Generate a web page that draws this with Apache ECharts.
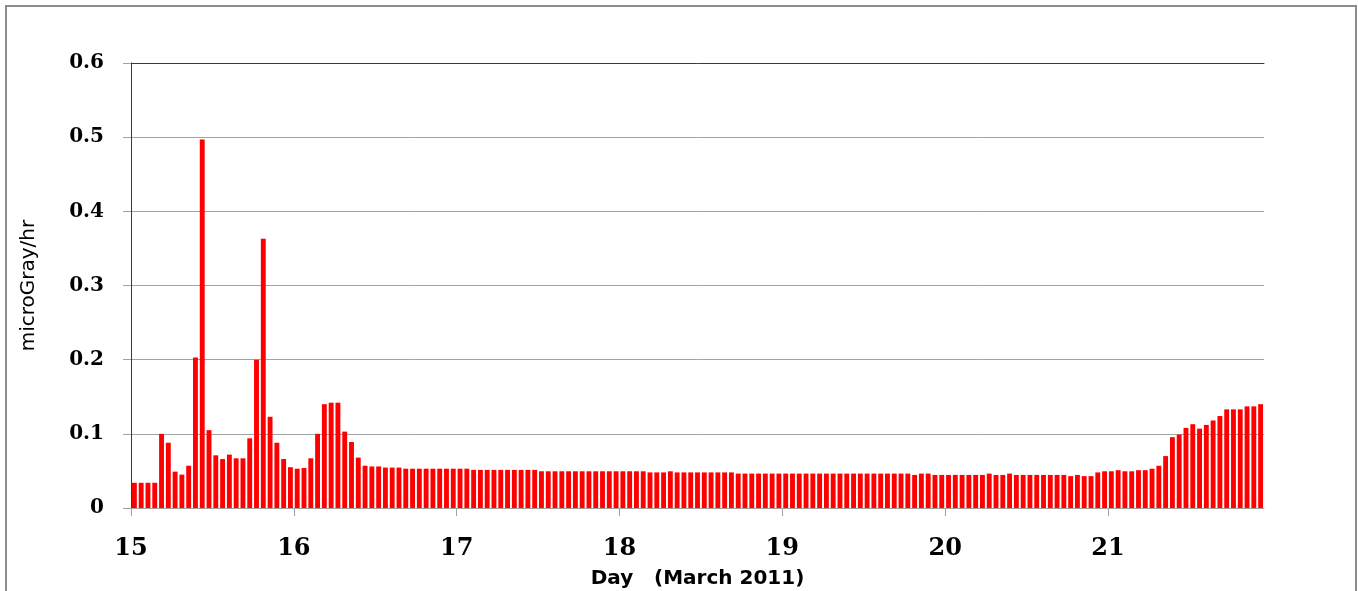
<!DOCTYPE html>
<html><head><meta charset="utf-8">
<script src="https://cdn.jsdelivr.net/npm/echarts@6/dist/echarts.min.js"></script>
<style>html,body{margin:0;padding:0;background:#fff}#c{width:1358px;height:591px}</style>
</head><body><div id="c"></div>
<script>
// Day-of-month labels (March 2011), one per 24 hourly bars
const dayLabels = ['15', '16', '17', '18', '19', '20', '21'];
const hoursPerDay = 24;
// Hourly dose rate, microGray/hr
const day15 = [0.034, 0.034, 0.034, 0.034, 0.100, 0.088, 0.049, 0.045, 0.057, 0.203, 0.497, 0.105,
               0.071, 0.066, 0.072, 0.067, 0.067, 0.094, 0.200, 0.363, 0.123, 0.088, 0.066, 0.055];
const day16 = [0.053, 0.054, 0.067, 0.100, 0.140, 0.142, 0.142, 0.103, 0.089, 0.068, 0.057, 0.056,
               0.056, 0.0545, 0.0545, 0.0545, 0.053, 0.053, 0.053, 0.053, 0.053, 0.053, 0.053, 0.053];
const day17 = [0.053, 0.053, 0.0514, 0.0514, 0.0514, 0.0514, 0.0514, 0.0514, 0.0514, 0.0514, 0.0514, 0.0514,
               0.0495, 0.0495, 0.0495, 0.0495, 0.0495, 0.0495, 0.0495, 0.0495, 0.0495, 0.0495, 0.0495, 0.0495];
const day18 = [0.0495, 0.0495, 0.0495, 0.0495, 0.048, 0.048, 0.048, 0.0495, 0.048, 0.048, 0.048, 0.048,
               0.048, 0.048, 0.048, 0.048, 0.048, 0.0464, 0.0464, 0.0464, 0.0464, 0.0464, 0.0464, 0.0464];
const day19 = [0.0464, 0.0464, 0.0464, 0.0464, 0.0464, 0.0464, 0.0464, 0.0464, 0.0464, 0.0464, 0.0464, 0.0464,
               0.0464, 0.0464, 0.0464, 0.0464, 0.0464, 0.0464, 0.0464, 0.0446, 0.0464, 0.0464, 0.0446, 0.0446];
const day20 = [0.0446, 0.0446, 0.0446, 0.0446, 0.0446, 0.0446, 0.0464, 0.0446, 0.0446, 0.0464, 0.0446, 0.0446,
               0.0446, 0.0446, 0.0446, 0.0446, 0.0446, 0.0446, 0.043, 0.0446, 0.043, 0.043, 0.048, 0.0495];
const day21 = [0.0495, 0.051, 0.0495, 0.0495, 0.051, 0.051, 0.053, 0.057, 0.070, 0.0955, 0.099, 0.108,
               0.113, 0.107, 0.112, 0.118, 0.124, 0.133, 0.133, 0.133, 0.137, 0.137, 0.140];
const yTickValues = [0, 0.1, 0.2, 0.3, 0.4, 0.5, 0.6];

const doseRate = [].concat(day15, day16, day17, day18, day19, day20, day21);
const categories = doseRate.map((v, i) => dayLabels[Math.floor(i / hoursPerDay)] + ' ' + (i % hoursPerDay) + 'h');
const dayStarts = dayLabels.map((d, k) => k * hoursPerDay);

const grey = '#a3a3a3';
const chart = echarts.init(document.getElementById('c'), null, {renderer: 'canvas'});
chart.setOption({
  animation: false,
  backgroundColor: '#ffffff',
  grid: {left: 131, right: 94, top: 63, bottom: 83, containLabel: false, outerBoundsMode: 'none'},
  graphic: [{
    type: 'rect', silent: true, z: -10,
    shape: {x: 6, y: 6, width: 1350, height: 620},
    style: {fill: 'none', stroke: '#8c8c8c', lineWidth: 2}
  }],
  xAxis: [
    {
      type: 'category', data: categories, boundaryGap: true,
      axisLine: {show: true, lineStyle: {color: grey, width: 1}},
      axisTick: {show: false}, axisLabel: {show: false}, splitLine: {show: false}
    },
    {
      type: 'value', min: 0, max: doseRate.length, position: 'bottom',
      axisLine: {show: false},
      axisTick: {show: true, length: 8, customValues: dayStarts, lineStyle: {color: grey}},
      axisLabel: {
        customValues: dayStarts, margin: 29,
        formatter: v => dayLabels[Math.round(v / hoursPerDay)] || '',
        fontFamily: 'DejaVu Serif', fontWeight: 'bold', fontSize: 24, color: '#000'
      },
      splitLine: {show: false},
      name: 'Day   (March 2011)', nameLocation: 'middle', nameGap: 61,
      nameTextStyle: {fontFamily: 'DejaVu Sans', fontWeight: 'bold', fontSize: 20, color: '#000'}
    },
    {
      type: 'value', min: 0, max: 1, position: 'top',
      axisLine: {show: true, lineStyle: {color: '#3a3a3a', width: 1}},
      axisTick: {show: false}, axisLabel: {show: false}, splitLine: {show: false}
    }
  ],
  yAxis: [
    {
      type: 'value', min: 0, max: 0.6, interval: 0.1,
      axisLine: {show: true, lineStyle: {color: grey, width: 1}},
      axisTick: {show: true, length: 8, lineStyle: {color: grey}},
      axisLabel: {
        margin: 27, fontFamily: 'DejaVu Serif', fontWeight: 'bold', fontSize: 20, color: '#000',
        formatter: v => String(Math.round(v * 10) / 10)
      },
      splitLine: {show: true, lineStyle: {color: grey, width: 1}},
      name: 'microGray/hr', nameLocation: 'middle', nameGap: 92, nameRotate: 90,
      nameTextStyle: {fontFamily: 'DejaVu Sans', fontSize: 20, color: '#000'}
    },
    {
      type: 'value', min: 0, max: 1, position: 'right',
      axisLine: {show: true, lineStyle: {color: '#3a3a3a', width: 1}},
      axisTick: {show: false}, axisLabel: {show: false}, splitLine: {show: false}
    }
  ],
  series: [{
    type: 'bar', xAxisIndex: 0, yAxisIndex: 0,
    data: doseRate,
    barCategoryGap: '28%',
    itemStyle: {color: '#ff0000'}
  }]
});
</script>
</body></html>
